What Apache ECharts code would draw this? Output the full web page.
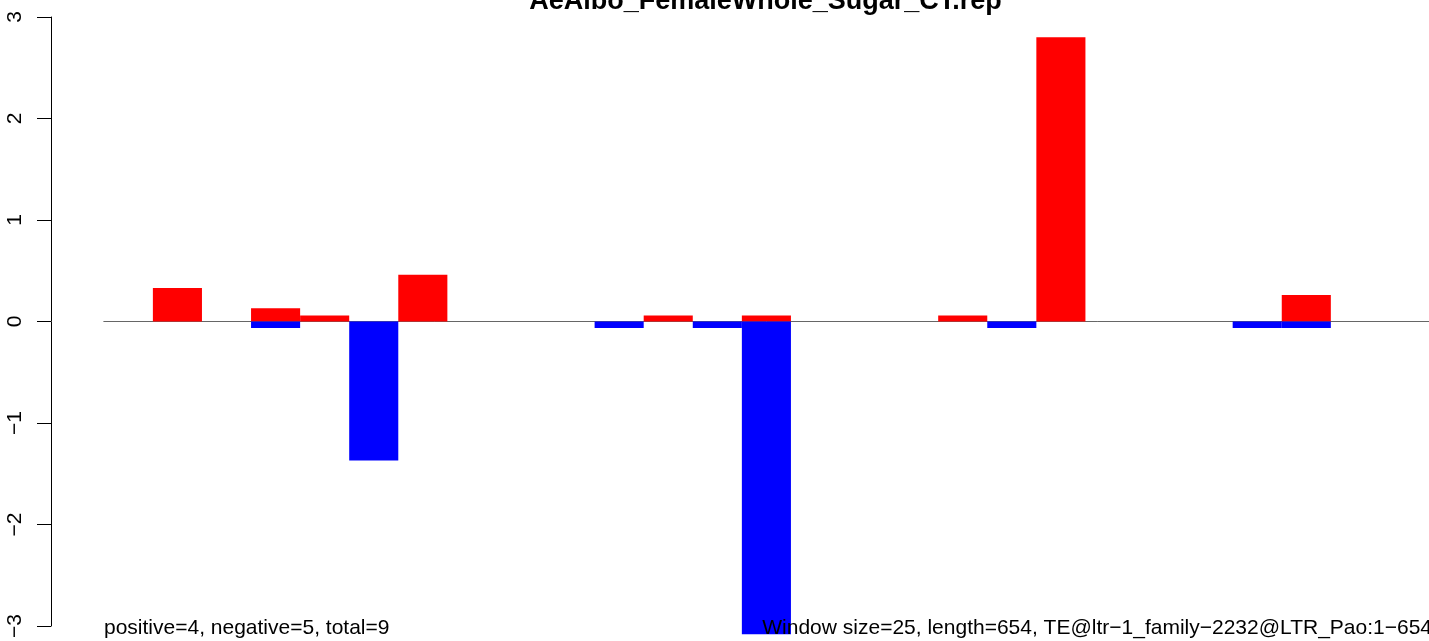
<!DOCTYPE html>
<html>
<head>
<meta charset="utf-8">
<script src="https://cdn.jsdelivr.net/npm/echarts@6/dist/echarts.min.js"></script>
<style>
html,body{margin:0;padding:0;background:#fff;}
#chart{width:1429px;height:641px;}
</style>
</head>
<body>
<div id="chart"></div>
<script>
// Data
var titleText = 'AeAlbo_FemaleWhole_Sugar_CT.rep';
var leftNote = 'positive=4, negative=5, total=9';
var rightNote = 'Window size=25, length=654, TE@ltr\u22121_family\u22122232@LTR_Pao:1\u2212654';
var windows = ['1','2','3','4','5','6','7','8','9','10','11','12','13','14','15','16','17','18','19','20','21','22','23','24','25','26','27'];
var positiveValues = [null,0.33,null,0.13,0.06,null,0.46,null,null,null,null,0.06,null,0.06,null,null,null,0.06,null,2.80,null,null,null,null,0.26,null,null];
var negativeValues = [null,null,null,-0.065,null,-1.37,null,null,null,null,-0.065,null,-0.065,-3.08,null,null,null,null,-0.065,null,null,null,null,-0.065,-0.065,null,null];
var yTicks = [-3,-2,-1,0,1,2,3];

var FONT = '"Liberation Sans", Arial, Helvetica, sans-serif';
var chart = echarts.init(document.getElementById('chart'), null, {renderer:'canvas'});
var gridLeft = 103.8, gridTop = 17, gridBottom = 641 - 627.7;
var slotW = 49.17;
chart.setOption({
  animation: false,
  backgroundColor: '#ffffff',
  grid: {left: gridLeft, top: gridTop, width: slotW * windows.length, bottom: gridBottom, containLabel: false},
  xAxis: {
    type: 'category', data: windows, boundaryGap: true,
    axisLine: {show: true, onZero: true, lineStyle: {color: '#666666', width: 1}},
    axisTick: {show: false}, axisLabel: {show: false}, splitLine: {show: false}
  },
  yAxis: {
    type: 'value', min: yTicks[0], max: yTicks[yTicks.length - 1], interval: 1,
    position: 'left', offset: gridLeft - 51,
    axisLine: {show: true, lineStyle: {color: '#000', width: 1}},
    axisTick: {show: true, length: 14, lineStyle: {color: '#000', width: 1}},
    axisLabel: {show: true, rotate: 90, margin: 25, fontSize: 21, color: '#000', fontFamily: FONT,
      formatter: function(v){ return String(v).replace('-', '\u2212'); }},
    splitLine: {show: false}
  },
  series: [
    {type: 'bar', name: 'positive', data: positiveValues, barWidth: '100%', barGap: '-100%', barCategoryGap: 0,
      itemStyle: {color: '#ff0000'}, clip: false, z: 2},
    {type: 'bar', name: 'negative', data: negativeValues, barWidth: '100%', barGap: '-100%', barCategoryGap: 0,
      itemStyle: {color: '#0000ff'}, clip: false, z: 3}
  ],
  graphic: [
    {type: 'text', x: 765.5, y: 2, style: {text: titleText, font: 'bold 27px ' + FONT, fill: '#000', align: 'center', verticalAlign: 'middle'}, z: 10},
    {type: 'text', x: 104, y: 628, style: {text: leftNote, font: '21px ' + FONT, fill: '#000', align: 'left', verticalAlign: 'middle'}, z: 10},
    {type: 'text', x: 1432, y: 628, style: {text: rightNote, font: '21px ' + FONT, fill: '#000', align: 'right', verticalAlign: 'middle'}, z: 10}
  ]
});
</script>
</body>
</html>
